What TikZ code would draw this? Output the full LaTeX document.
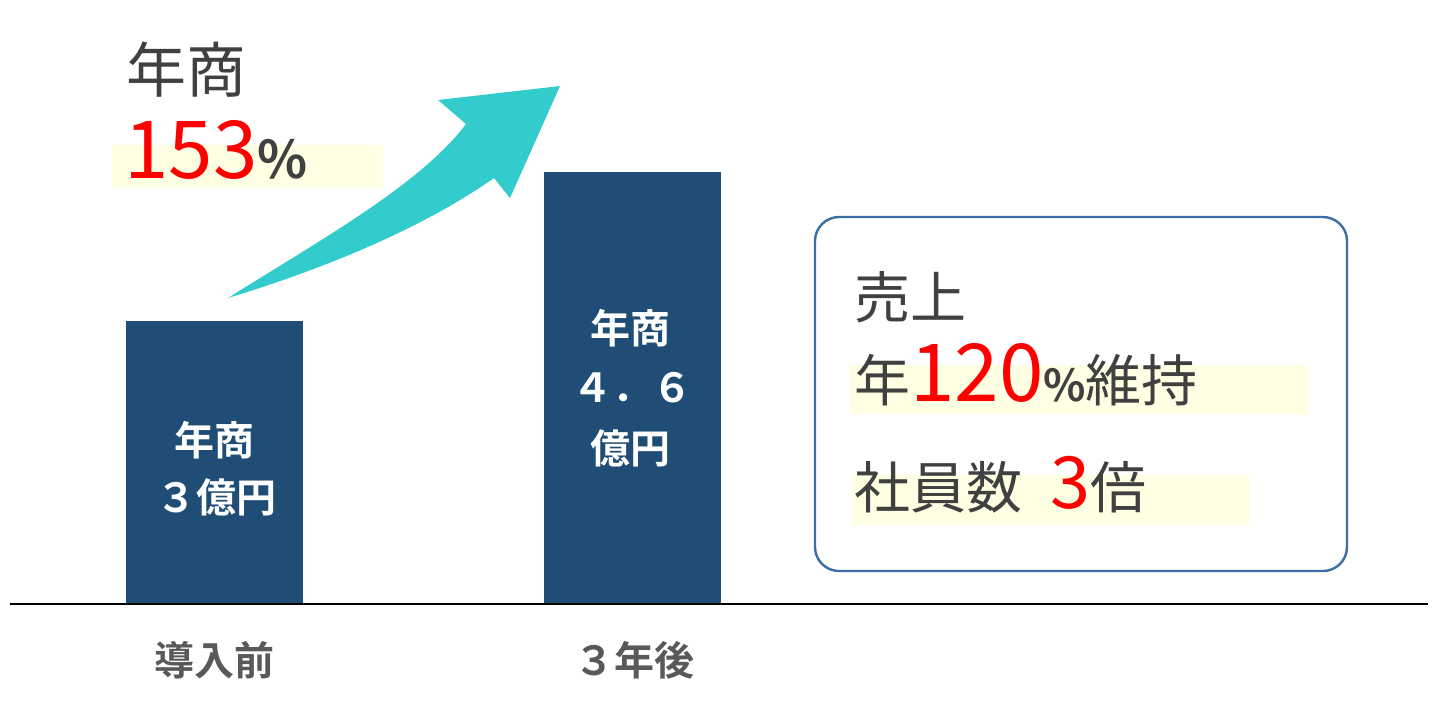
\documentclass[tikz,border=0pt]{standalone}
\usepackage{fontspec}
\setmainfont{Noto Sans CJK JP}
\newfontfamily\jpb{Noto Sans CJK JP Bold}
\definecolor{barc}{HTML}{204D75}
\definecolor{teal}{HTML}{33CCCC}
\definecolor{txt}{HTML}{404040}
\definecolor{lab}{HTML}{595959}
\definecolor{hl}{HTML}{FFFFE3}
\definecolor{boxc}{HTML}{3A6EA5}
\definecolor{red0}{HTML}{FF0000}
\tikzset{bar/.style={fill=barc,draw=none},
 bt/.style={text=white,font=\jpb\fontsize{20}{24}\selectfont,inner sep=0},
 lt/.style={text=lab,font=\jpb\fontsize{20}{24}\selectfont,inner sep=0},
 hlr/.style={fill=hl,draw=none}}
\begin{document}
\begin{tikzpicture}[x=0.5pt,y=-0.5pt]
\useasboundingbox (0,0) rectangle (1440,709);
% highlights
\fill[hlr] (112,145) rectangle (383,188);
\fill[hlr] (850,365) rectangle (1308,414);
\fill[hlr] (852,475) rectangle (1250,525);
% bars
\fill[bar] (126,321) rectangle (303,604);
\fill[bar] (544,172) rectangle (721,604);
\draw[line width=0.7pt] (10,604) -- (1428,604);
\node[bt] (b1a) at (214,440) {年商};
\node[bt] (b1b) at (216,497) {３億円};
\node[bt] (b2a) at (630,328) {年商};
\node[bt] (b2b) at (632,388) {４．６};
\node[bt] (b2c) at (630,448) {億円};
\node[lt] (l1) at (214,660) {導入前};
\node[lt] (l2) at (634,660) {３年後};
% arrow
\fill[teal] (228,298) .. controls (320,240) and (420,185) .. (466,124)
 -- (438,100) -- (560,86) -- (510,198) -- (494,178)
 .. controls (420,230) and (320,270) .. cycle;
% top-left text
\node[anchor=west,text=txt,font=\fontsize{30}{34}\selectfont,inner sep=0] (t1) at (126,70) {年商};
\node[anchor=west,inner sep=0] (t2) at (124,150) {\textcolor{red0}{\fontsize{40}{44}\selectfont 153}\textcolor{txt}{\jpb\fontsize{26}{30}\selectfont\%}};
% box
\draw[boxc,line width=1.2pt,rounded corners=12pt] (815,217) rectangle (1347,571);
\node[anchor=west,text=txt,font=\fontsize{28}{32}\selectfont,inner sep=0] (r1) at (854,297) {売上};
\node[anchor=west,inner sep=0] (r2) at (854,375) {\textcolor{txt}{\fontsize{28}{32}\selectfont 年}\textcolor{red0}{\fontsize{40}{44}\selectfont 120}\textcolor{txt}{\jpb\fontsize{22}{26}\selectfont\%}\textcolor{txt}{\fontsize{28}{32}\selectfont 維持}};
\node[anchor=west,inner sep=0] (r3) at (854,485) {\textcolor{txt}{\fontsize{28}{32}\selectfont 社員数\hspace{14pt}}\textcolor{red0}{\fontsize{36}{40}\selectfont 3}\textcolor{txt}{\fontsize{28}{32}\selectfont 倍}};
\end{tikzpicture}
\end{document}
